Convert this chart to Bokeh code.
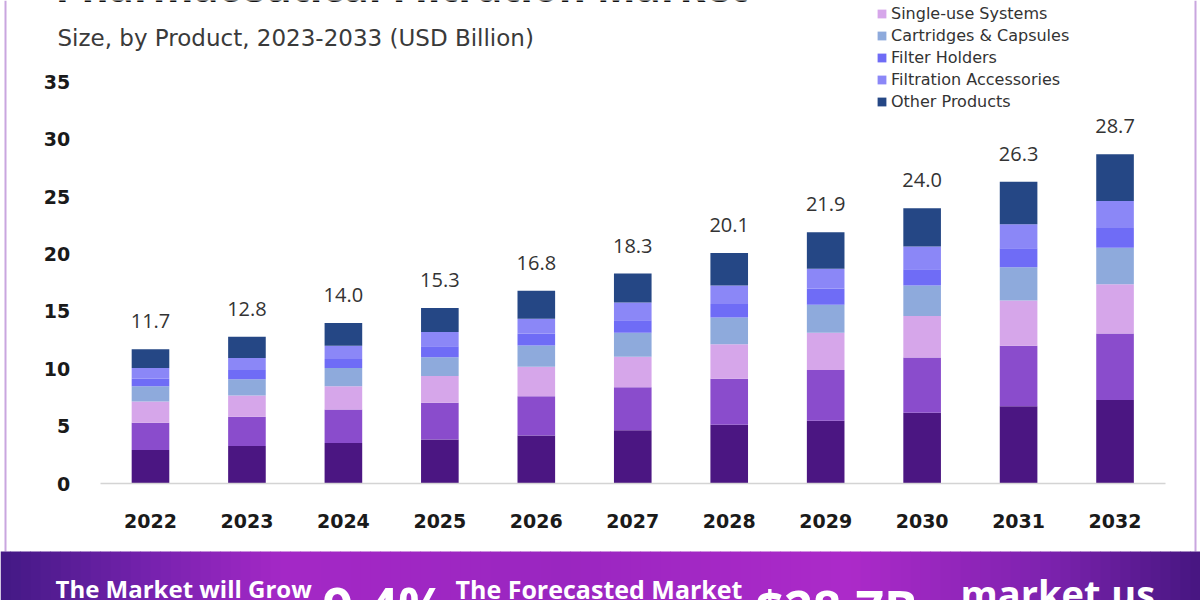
from bokeh.plotting import figure
from bokeh.models import (ColumnDataSource, Range1d, FixedTicker, Legend, LegendItem,
                          LabelSet, Label, BoxAnnotation)
from bokeh.core.properties import value
from bokeh.embed import file_html
from bokeh.resources import INLINE

# ---------------- data ----------------
years = ["2022", "2023", "2024", "2025", "2026", "2027", "2028", "2029", "2030", "2031", "2032"]
totals = [11.7, 12.8, 14.0, 15.3, 16.8, 18.3, 20.1, 21.9, 24.0, 26.3, 28.7]

membrane_filters = [2.92, 3.26, 3.54, 3.84, 4.19, 4.64, 5.13, 5.47, 6.16, 6.73, 7.27]
prefilters = [2.38, 2.56, 2.91, 3.20, 3.42, 3.75, 4.00, 4.42, 4.82, 5.27, 5.81]
single_use = [1.86, 1.86, 2.03, 2.33, 2.56, 2.67, 3.02, 3.26, 3.63, 3.95, 4.30]
cartridges = [1.31, 1.40, 1.60, 1.63, 1.86, 2.09, 2.33, 2.44, 2.65, 2.91, 3.17]
filter_holders = [0.67, 0.81, 0.78, 0.96, 1.05, 1.08, 1.16, 1.42, 1.42, 1.66, 1.72]
accessories = [0.93, 1.05, 1.16, 1.25, 1.28, 1.54, 1.63, 1.72, 1.98, 2.09, 2.35]
other_products = [1.63, 1.86, 1.98, 2.09, 2.44, 2.53, 2.83, 3.17, 3.34, 3.69, 4.08]

series_names = ["Membrane Filters", "Prefilters & Depth Media", "Single-use Systems",
                "Cartridges & Capsules", "Filter Holders", "Filtration Accessories",
                "Other Products"]
y_ticks = [0, 5, 10, 15, 20, 25, 30, 35]

title_text = "Pharmaceutical Filtration Market"
subtitle_text = "Size, by Product, 2023-2033 (USD Billion)"
grow_text = "The Market will Grow"
cagr_text = "9.4%"
forecast_label = "The Forecasted Market"
forecast_text = "$28.7B"
brand_text = "market.us"

# ---------------- styles ----------------
colors = ["#4b1682", "#8a4ccc", "#d6a6ea", "#8eaadc", "#6f6cf6", "#8b87f7", "#254785"]
FONT = "Open Sans"
AXFONT = "DejaVu Sans"

keys = ["s0", "s1", "s2", "s3", "s4", "s5", "s6"]
idx = list(range(len(years)))
src = ColumnDataSource(dict(
    x=idx, year=years,
    s0=membrane_filters, s1=prefilters, s2=single_use, s3=cartridges,
    s4=filter_holders, s5=accessories, s6=other_products,
    total=totals, label=[f"{t:.1f}" for t in totals],
))

# frame covers the whole canvas; axes are pinned inside with fixed_location
p = figure(x_range=Range1d(-1.555, 10.886), y_range=Range1d(-10.2, 42.11),
           width=1200, height=600, output_backend="svg", toolbar_location=None,
           min_border_left=0, min_border_right=0, min_border_top=0, min_border_bottom=0)
p.outline_line_color = None
p.xgrid.visible = False
p.ygrid.visible = False
p.background_fill_color = "white"
p.border_fill_color = "white"

renderers = p.vbar_stack(keys, x="x", width=0.39, color=colors, line_color=None, source=src)

# axes
p.yaxis.fixed_location = -0.5
p.yaxis.ticker = FixedTicker(ticks=y_ticks)
p.yaxis.axis_line_color = None
p.yaxis.major_tick_line_color = None
p.yaxis.minor_tick_line_color = None
p.yaxis.major_label_standoff = 26
p.yaxis.major_label_text_font = AXFONT
p.yaxis.major_label_text_font_style = "bold"
p.yaxis.major_label_text_font_size = "19px"
p.yaxis.major_label_text_color = "#1a1a1a"

p.xaxis.fixed_location = 0
p.xaxis.bounds = (-0.52, 10.52)
p.xaxis.ticker = FixedTicker(ticks=idx)
p.xaxis.major_label_overrides = {i: y for i, y in zip(idx, years)}
p.xaxis.axis_line_color = "#d4d4d4"
p.xaxis.axis_line_width = 1.5
p.xaxis.major_tick_line_color = None
p.xaxis.minor_tick_line_color = None
p.xaxis.major_label_standoff = 24
p.xaxis.major_label_text_font = AXFONT
p.xaxis.major_label_text_font_style = "bold"
p.xaxis.major_label_text_font_size = "19px"
p.xaxis.major_label_text_color = "#1a1a1a"

# totals above bars
p.add_layout(LabelSet(x="x", y="total", text="label", source=src, text_align="center",
                      text_baseline="bottom", y_offset=21, text_font=value(FONT),
                      text_font_size=value("20px"), text_color="#333333"))

# legend
legend = Legend(items=[LegendItem(label=n, renderers=[r]) for n, r in zip(series_names, renderers)],
                location=(876, 489), orientation="vertical", padding=0, margin=0,
                spacing=2, label_height=20, glyph_height=11, glyph_width=11,
                label_standoff=4, label_text_font=AXFONT, label_text_font_size="16px",
                label_text_color="#333333", border_line_color=None,
                background_fill_alpha=0)
p.add_layout(legend)


def canvas_box(left, right, top, bottom, color):
    p.add_layout(BoxAnnotation(left=left, right=right, top=top, bottom=bottom,
                               left_units="canvas", right_units="canvas",
                               bottom_units="canvas", top_units="canvas",
                               fill_color=color, fill_alpha=1, line_color=None))


# side frame lines
canvas_box(4, 6, 0, 551, "#c9a6df")
canvas_box(1194, 1196, 0, 551, "#c9a6df")

# banner gradient
stops = [(0, (66, 25, 132)), (150, (118, 34, 174)), (280, (164, 40, 198)), (560, (154, 38, 192)),
         (850, (172, 42, 201)), (1050, (124, 34, 174)), (1200, (70, 22, 128))]


def col_at(x):
    for (x0, c0), (x1, c1) in zip(stops[:-1], stops[1:]):
        if x0 <= x <= x1:
            t = (x - x0) / (x1 - x0)
            return "#%02x%02x%02x" % tuple(int(round(a + (b - a) * t)) for a, b in zip(c0, c1))
    return "#%02x%02x%02x" % stops[-1][1]


step = 10
for x in range(0, 1200, step):
    canvas_box(x, x + step + 0.5, 551, 600, col_at(x + step / 2))


def add_label(x, baseline, text, size, style="normal", color="#111111", font=FONT):
    # empirical: canvas-unit labels land with their baseline ~0.44*size below y
    p.add_layout(Label(x=x, y=baseline - 0.44 * size, x_units="canvas", y_units="canvas",
                       text=text, text_font=font, text_font_size=f"{size}px",
                       text_font_style=style, text_color=color,
                       text_baseline="alphabetic", text_align="left"))


add_label(55, 4, title_text, 41.5, "bold", "#111111")
add_label(57, 48, subtitle_text, 23, "normal", "#3a3a3a", AXFONT)

add_label(55, 599, grow_text, 24, "bold", "white")
add_label(322, 629, cagr_text, 53, "bold", "white")
add_label(455, 599, forecast_label, 25, "bold", "white")
add_label(755, 629, forecast_text, 50, "bold", "white")
add_label(960, 609, brand_text, 38, "bold", "white")

open("out.html", "w").write(file_html(p, INLINE))
